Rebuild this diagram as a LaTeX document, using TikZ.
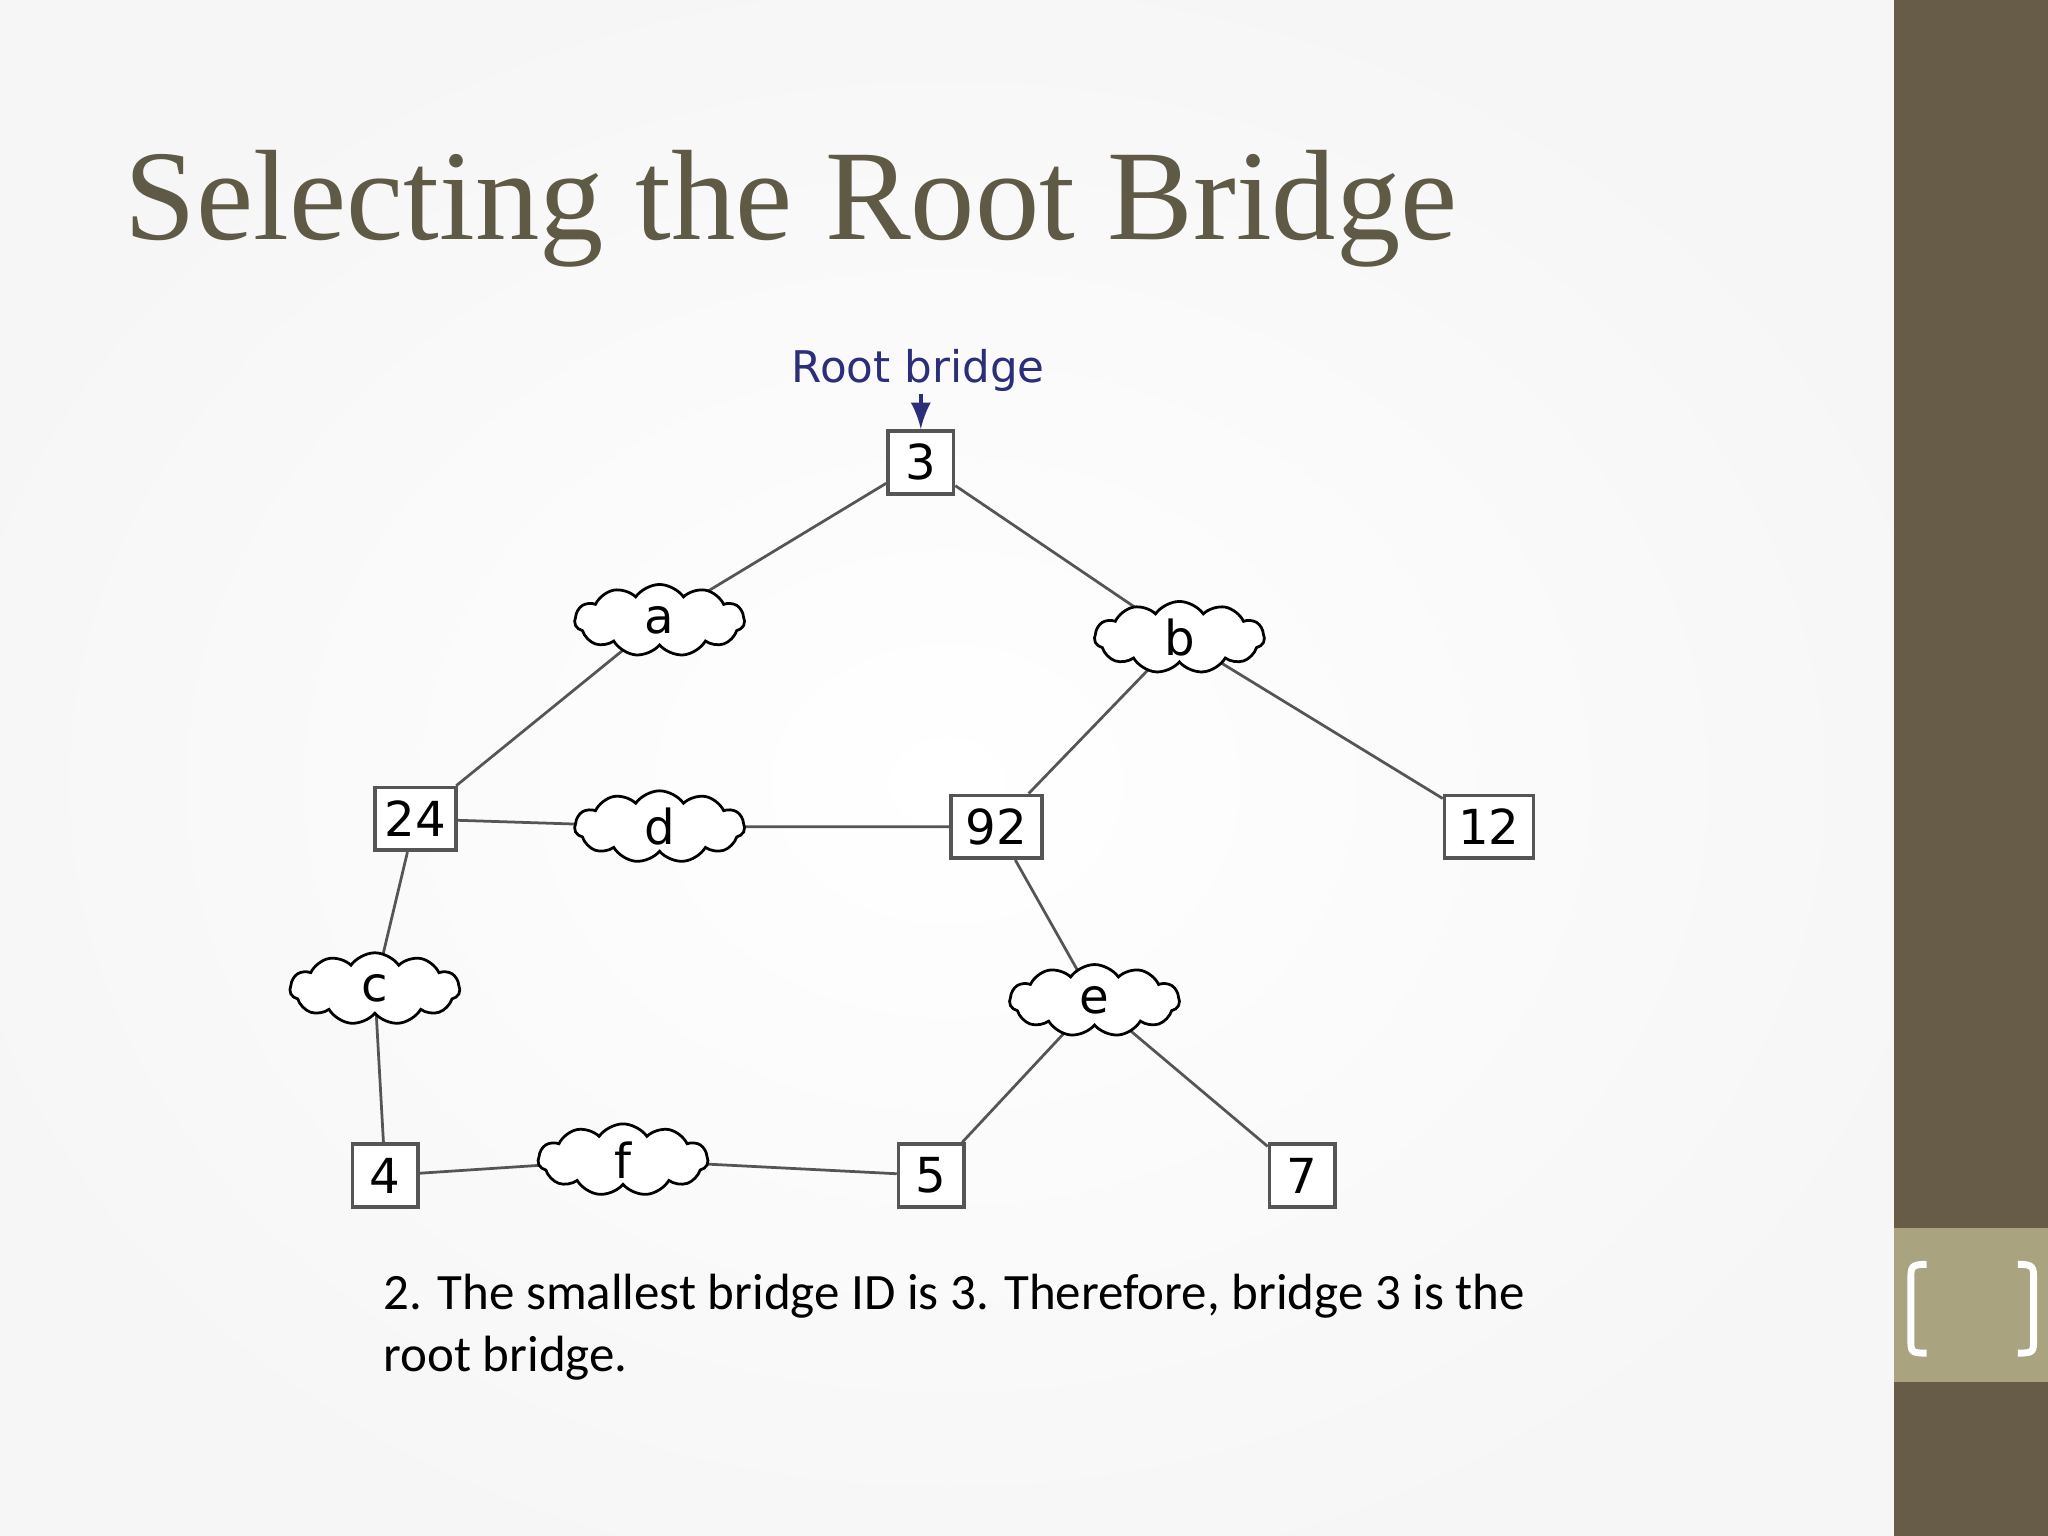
\documentclass[tikz,border=0pt]{standalone}
\usepackage{fontspec}
\setmainfont{Liberation Serif}
\newfontfamily\dvs{DejaVu Sans}
\newfontfamily\carl{Carlito}
\usetikzlibrary{shapes.symbols}
\definecolor{olive}{HTML}{675C47}
\definecolor{lolive}{HTML}{A9A37F}
\definecolor{titc}{HTML}{5F5A45}
\definecolor{navy}{HTML}{2B2F7A}
\definecolor{ln}{HTML}{555555}
\begin{document}
\begin{tikzpicture}[x=0.01cm,y=-0.01cm,
  br/.style={draw=ln,fill=white,line width=0.8pt,minimum width=#1,minimum height=0.48cm,inner sep=0pt,font=\dvs\fontsize{10.5}{12}\selectfont},
  cl/.style={cloud,cloud puffs=11,cloud puff arc=110,aspect=2.3,draw=black,fill=white,line width=0.6pt,minimum width=1.3cm,minimum height=0.55cm,inner sep=0pt,font=\dvs\fontsize{10.5}{12}\selectfont},
  ed/.style={draw=ln,line width=0.6pt}]
\useasboundingbox (0,0) rectangle (1568,1176);
\fill[white!93!gray] (0,0) rectangle (1450,1176);
\shade[inner color=white,outer color=white!93!gray] (725,600) ellipse (800 and 640);
\fill[olive] (1450,0) rectangle (1568,1176);
\fill[lolive] (1450,940) rectangle (1568,1058);
\draw[white,line width=1.5pt] (1475,968) .. controls (1463,968) and (1463,970) .. (1463,980) -- (1463,1025) .. controls (1463,1035) and (1463,1036) .. (1475,1036);
\draw[white,line width=1.5pt] (1545,968) .. controls (1557,968) and (1557,970) .. (1557,980) -- (1557,1025) .. controls (1557,1035) and (1557,1036) .. (1545,1036);
\node[anchor=base west,inner sep=0pt,text=titc,font=\fontsize{28}{33}\selectfont] (title) at (95,183) {Selecting the Root Bridge};
\node[text=navy,font=\dvs\fontsize{9.5}{11}\selectfont,inner sep=0pt] (rl) at (703,284) {Root bridge};
\node[br=0.5cm] (n3) at (705,354) {3};
\node[br=0.62cm] (n24) at (318,627) {24};
\node[br=0.7cm] (n92) at (763,633) {92};
\node[br=0.68cm] (n12) at (1140,633) {12};
\node[br=0.5cm] (n4) at (295,900) {4};
\node[br=0.5cm] (n5) at (713,900) {5};
\node[br=0.5cm] (n7) at (997,900) {7};
\draw[navy,line width=1pt,-latex] (705,302) -- (n3.north);
\draw[ed] (n3) -- (505,475) (n3) -- (903,488) (505,475) -- (n24) (903,488) -- (n92) (903,488) -- (n12)
 (n24) -- (505,633) -- (n92) (n24) -- (287,757) -- (n4) (n4) -- (477,888) -- (n5)
 (n92) -- (838,766) -- (n5) (838,766) -- (n7);
\node[cl] (a) at (505,475) {a};
\node[cl] (b) at (903,488) {b};
\node[cl] (d) at (505,633) {d};
\node[cl] (c) at (287,757) {c};
\node[cl] (e) at (838,766) {e};
\node[cl] (f) at (477,888) {f};
\node[anchor=north west,inner sep=0pt,align=left,font=\carl\fontsize{11.1}{13.4}\selectfont] (txt) at (293,975) {2. The smallest bridge ID is 3. Therefore, bridge 3 is the\\root bridge.};
\end{tikzpicture}
\end{document}
